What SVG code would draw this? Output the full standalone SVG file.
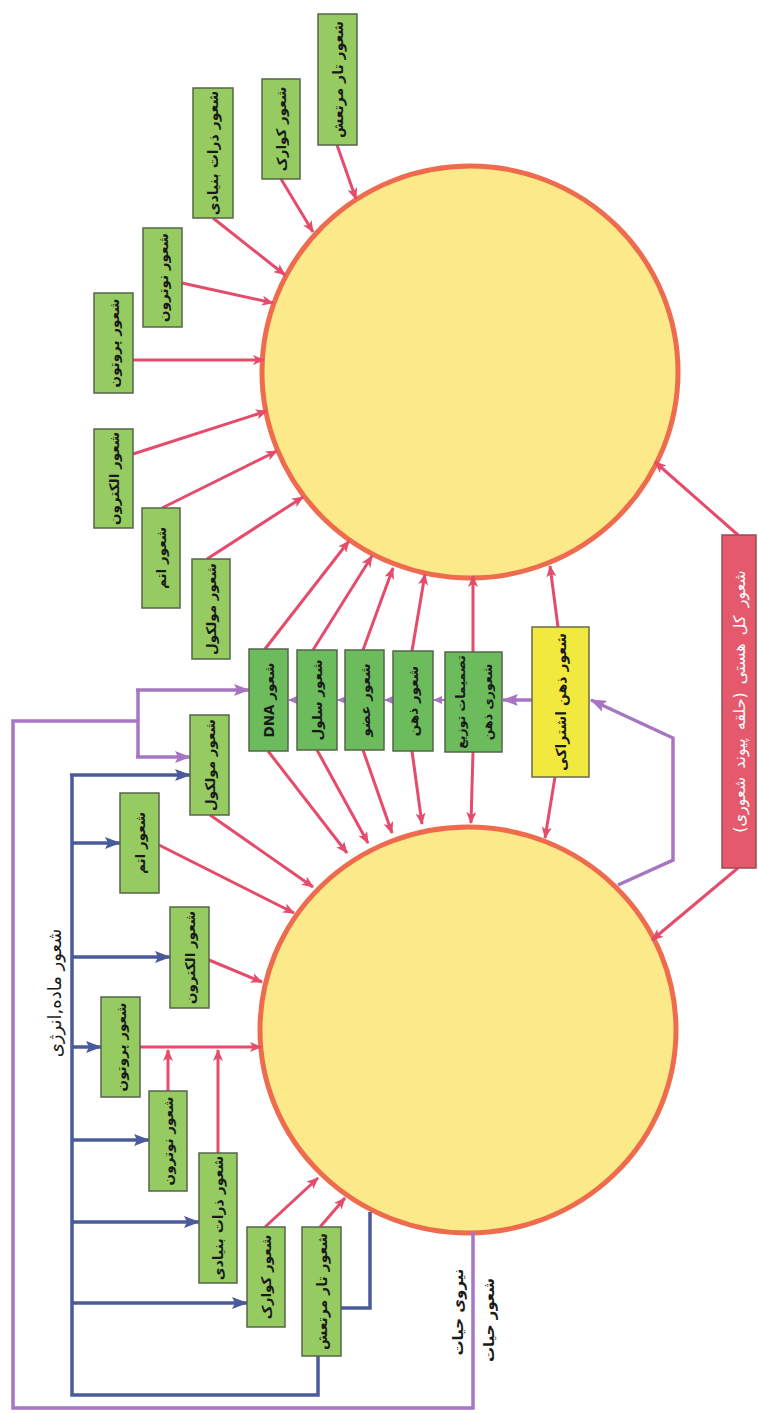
<svg xmlns="http://www.w3.org/2000/svg" width="758" height="1413" viewBox="0 0 758 1413">
<defs>
<style>
.bg{fill:#ffffff}
.circle{fill:#fbe98a;stroke:#ee6b4d;stroke-width:5}
.g{fill:#96cb62;stroke:#55654a;stroke-width:1.5}
.gd{fill:#6cbb5c;stroke:#55654a;stroke-width:1.5}
.y{fill:#f2e93f;stroke:#6a6a4a;stroke-width:1.5}
.r{fill:#e4596b;stroke:#9c4a55;stroke-width:1.5}
.t{font-family:"DejaVu Sans",sans-serif;font-size:13.5px;font-weight:bold;fill:#1a1a1a;text-anchor:middle;dominant-baseline:central;direction:rtl}
.tl{font-family:"DejaVu Sans",sans-serif;font-size:14px;font-weight:bold;fill:#1a1a1a;text-anchor:middle;dominant-baseline:central;direction:rtl}
.ts{font-family:"DejaVu Sans",sans-serif;font-size:12.5px;font-weight:bold;fill:#1a1a1a;text-anchor:middle;dominant-baseline:central;direction:rtl}
.tw{font-family:"DejaVu Sans",sans-serif;font-size:16px;fill:#ffffff;text-anchor:middle;dominant-baseline:central;direction:rtl;word-spacing:3px}
.lbl{font-family:"DejaVu Sans",sans-serif;font-size:18px;fill:#1a1a1a;text-anchor:middle;dominant-baseline:central;direction:rtl}
.lblb{font-family:"DejaVu Sans",sans-serif;font-size:15px;font-weight:bold;fill:#1a1a1a;text-anchor:middle;dominant-baseline:central;direction:rtl}
.pk{fill:none;stroke:#e54b6b;stroke-width:3;marker-end:url(#ap)}
.bl{fill:none;stroke:#4a5b9b;stroke-width:3.5}
.bla{fill:none;stroke:#4a5b9b;stroke-width:3.5;marker-end:url(#ab)}
.pu{fill:none;stroke:#a676c2;stroke-width:3.5}
.pua{fill:none;stroke:#a676c2;stroke-width:3.5;marker-end:url(#apu)}
.pus{fill:none;stroke:#a676c2;stroke-width:2;marker-end:url(#apus)}
</style>
<marker id="ap" markerUnits="userSpaceOnUse" markerWidth="12" markerHeight="10" refX="11" refY="5" orient="auto"><path d="M0,0 L12,5 L0,10 L3,5 z" fill="#e54b6b"/></marker>
<marker id="ab" markerUnits="userSpaceOnUse" markerWidth="16" markerHeight="12" refX="15" refY="6" orient="auto"><path d="M0,0 L16,6 L0,12 L3,6 z" fill="#4a5b9b"/></marker>
<marker id="apu" markerUnits="userSpaceOnUse" markerWidth="16" markerHeight="12" refX="15" refY="6" orient="auto"><path d="M0,0 L16,6 L0,12 L3,6 z" fill="#a676c2"/></marker>
<marker id="apus" markerUnits="userSpaceOnUse" markerWidth="9" markerHeight="8" refX="8" refY="4" orient="auto"><path d="M0,0 L9,4 L0,8 z" fill="#a676c2"/></marker>
</defs>
<rect class="bg" x="0" y="0" width="758" height="1413"/>

<g id="circle-top"><ellipse class="circle" cx="470" cy="372" rx="208" ry="206"/></g>
<g id="circle-bottom"><ellipse class="circle" cx="468" cy="1030" rx="208" ry="203"/></g>

<g id="connectors">
<line class="pk" x1="337" y1="145" x2="356" y2="199"/>
<line class="pk" x1="281" y1="179" x2="313" y2="232"/>
<line class="pk" x1="213" y1="218" x2="285" y2="275"/>
<line class="pk" x1="182" y1="283" x2="273" y2="303"/>
<line class="pk" x1="133" y1="360" x2="264" y2="360"/>
<line class="pk" x1="133" y1="454" x2="267" y2="411"/>
<line class="pk" x1="162" y1="508" x2="277" y2="451"/>
<line class="pk" x1="207" y1="559" x2="303" y2="497"/>
<line class="pk" x1="265" y1="649" x2="349" y2="541"/>
<line class="pk" x1="313" y1="650" x2="372" y2="556"/>
<line class="pk" x1="363" y1="650" x2="393" y2="568"/>
<line class="pk" x1="412" y1="651" x2="425" y2="574"/>
<line class="pk" x1="473" y1="652" x2="473" y2="576"/>
<line class="pk" x1="558" y1="627" x2="550" y2="566"/>
<line class="pk" x1="268" y1="751" x2="347" y2="853"/>
<line class="pk" x1="317" y1="750" x2="368" y2="843"/>
<line class="pk" x1="363" y1="750" x2="392" y2="833"/>
<line class="pk" x1="412" y1="751" x2="422" y2="824"/>
<line class="pk" x1="473" y1="752" x2="471" y2="823"/>
<line class="pk" x1="555" y1="777" x2="545" y2="838"/>
<line class="pk" x1="738" y1="535" x2="655" y2="462"/>
<line class="pk" x1="738" y1="868" x2="652" y2="940"/>
<line class="pk" x1="210" y1="815" x2="313" y2="887"/>
<line class="pk" x1="159" y1="845" x2="294" y2="913"/>
<line class="pk" x1="209" y1="960" x2="262" y2="982"/>
<line class="pk" x1="140" y1="1047" x2="261" y2="1047"/>
<line class="pk" x1="168" y1="1091" x2="168" y2="1050"/>
<line class="pk" x1="218" y1="1153" x2="218" y2="1050"/>
<line class="pk" x1="265" y1="1227" x2="318" y2="1178"/>
<line class="pk" x1="320" y1="1227" x2="345" y2="1198"/>
<polyline class="bl" points="72,775 72,1395 318,1395 318,1356"/>
<polyline class="bl" points="341,1308 370,1308 370,1212"/>
<line class="bla" x1="70" y1="775" x2="190" y2="775"/>
<line class="bla" x1="72" y1="843" x2="120" y2="843"/>
<line class="bla" x1="72" y1="957" x2="170" y2="957"/>
<line class="bla" x1="72" y1="1047" x2="101" y2="1047"/>
<line class="bla" x1="72" y1="1140" x2="149" y2="1140"/>
<line class="bla" x1="72" y1="1222" x2="199" y2="1222"/>
<line class="bla" x1="72" y1="1303" x2="247" y2="1303"/>
<polyline class="pu" points="473,1232 473,1408 13,1408 13,721 138,721"/>
<polyline class="pu" points="138,690 138,757"/>
<line class="pua" x1="136" y1="690" x2="249" y2="690"/>
<line class="pua" x1="136" y1="757" x2="190" y2="757"/>
<polyline class="pua" points="618,885 673,860 673,738 591,700"/>
<line class="pua" x1="532" y1="700" x2="503" y2="700"/>
<line class="pus" x1="445" y1="700" x2="434" y2="700"/>
<line class="pus" x1="393" y1="700" x2="385" y2="700"/>
<line class="pus" x1="345" y1="700" x2="338" y2="700"/>
<line class="pus" x1="297" y1="700" x2="289" y2="700"/>
</g>

<g id="t-tar"><rect class="g" x="318" y="14" width="39" height="131"/><text class="tl" transform="translate(337.5,79.5) rotate(-90)">شعور تار مرتعش</text></g>
<g id="t-quark"><rect class="g" x="262" y="79" width="38" height="100"/><text class="t" transform="translate(281,129) rotate(-90)">شعور کوارک</text></g>
<g id="t-zarat"><rect class="g" x="193" y="88" width="40" height="130"/><text class="tl" transform="translate(213,153) rotate(-90)">شعور ذرات بنیادی</text></g>
<g id="t-neutron"><rect class="g" x="143" y="228" width="39" height="99"/><text class="t" transform="translate(162.5,277.5) rotate(-90)">شعور نوترون</text></g>
<g id="t-proton"><rect class="g" x="94" y="293" width="39" height="100"/><text class="t" transform="translate(113.5,343) rotate(-90)">شعور پروتون</text></g>
<g id="t-electron"><rect class="g" x="94" y="429" width="39" height="99"/><text class="t" transform="translate(113.5,478.5) rotate(-90)">شعور الکترون</text></g>
<g id="t-atom"><rect class="g" x="142" y="508" width="38" height="100"/><text class="t" transform="translate(161,558) rotate(-90)">شعور اتم</text></g>
<g id="t-molecule"><rect class="g" x="192" y="559" width="38" height="100"/><text class="t" transform="translate(211,609) rotate(-90)">شعور مولکول</text></g>

<g id="m-dna"><rect class="gd" x="249" y="649" width="39" height="102"/><text class="t" transform="translate(268.5,700) rotate(-90)">شعور DNA</text></g>
<g id="m-cell"><rect class="gd" x="297" y="650" width="40" height="100"/><text class="t" transform="translate(317,700) rotate(-90)">شعور سلول</text></g>
<g id="m-organ"><rect class="gd" x="345" y="650" width="39" height="100"/><text class="t" transform="translate(364.5,700) rotate(-90)">شعور عضو</text></g>
<g id="m-mind"><rect class="gd" x="393" y="651" width="40" height="100"/><text class="t" transform="translate(413,701) rotate(-90)">شعور ذهن</text></g>
<g id="m-decision"><rect class="gd" x="445" y="652" width="57" height="100"/><text class="ts" transform="translate(460,702) rotate(-90)">تصمیمات توزیع</text><text class="ts" transform="translate(487,702) rotate(-90)">شعوری ذهن</text></g>
<g id="m-collective"><rect class="y" x="532" y="627" width="57" height="150"/><text class="tl" transform="translate(560.5,702) rotate(-90)">شعور ذهن اشتراکی</text></g>
<g id="m-universe"><rect class="r" x="722" y="535" width="34" height="333"/><text class="tw" transform="translate(739,701.5) rotate(-90)">شعور کل هستی (حلقه پیوند شعوری)</text></g>

<g id="b-molecule"><rect class="g" x="190" y="715" width="39" height="100"/><text class="t" transform="translate(209.5,765) rotate(-90)">شعور مولکول</text></g>
<g id="b-atom"><rect class="g" x="120" y="793" width="39" height="100"/><text class="t" transform="translate(139.5,843) rotate(-90)">شعور اتم</text></g>
<g id="b-electron"><rect class="g" x="170" y="907" width="39" height="101"/><text class="t" transform="translate(189.5,957.5) rotate(-90)">شعور الکترون</text></g>
<g id="b-proton"><rect class="g" x="101" y="997" width="39" height="100"/><text class="t" transform="translate(120.5,1047) rotate(-90)">شعور پروتون</text></g>
<g id="b-neutron"><rect class="g" x="149" y="1091" width="38" height="100"/><text class="t" transform="translate(168,1141) rotate(-90)">شعور نوترون</text></g>
<g id="b-zarat"><rect class="g" x="199" y="1153" width="38" height="130"/><text class="tl" transform="translate(218,1218) rotate(-90)">شعور ذرات بنیادی</text></g>
<g id="b-quark"><rect class="g" x="247" y="1227" width="38" height="100"/><text class="t" transform="translate(266,1277) rotate(-90)">شعور کوارک</text></g>
<g id="b-tar"><rect class="g" x="302" y="1227" width="39" height="129"/><text class="tl" transform="translate(321.5,1291.5) rotate(-90)">شعور تار مرتعش</text></g>

<g id="labels">
<text class="lbl" transform="translate(54,993) rotate(-90)">شعور ماده,انرژی</text>
<text class="lblb" transform="translate(458,1312) rotate(-90)">نیروی حیات</text>
<text class="lblb" transform="translate(489,1320) rotate(-90)">شعور حیات</text>
</g>
</svg>
